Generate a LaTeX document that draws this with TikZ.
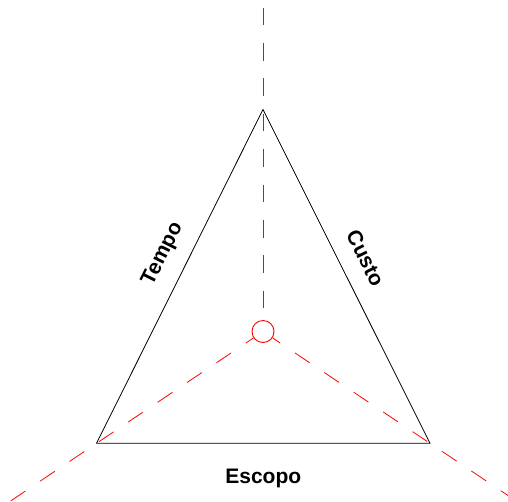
\documentclass[tikz,border=0pt]{standalone}
\usepackage{fontspec}
\setmainfont{Liberation Sans}
\begin{document}
\begin{tikzpicture}[x=1pt,y=-1pt,
  lbl/.style={font=\fontsize{21}{25}\selectfont\bfseries, inner sep=0pt},
  edge/.style={black, line width=0.8pt, line join=miter},
  axis/.style={red, line width=0.8pt, dash pattern=on 17.7pt off 17.7pt},
  hub/.style={circle, draw=red, line width=0.9pt, minimum size=22pt, inner sep=0pt}]
\useasboundingbox (0,0) rectangle (508,501);
\clip (0,0) rectangle (508,501);
\coordinate (A) at (263,109.5);
\coordinate (B) at (96.5,443.3);
\coordinate (C) at (430,443.3);
\coordinate (top) at (263,0);
\coordinate (ll) at (-17.7,520);
\coordinate (lr) at (544.6,520);
\node[hub] (o) at (263,331.5) {};
\draw[axis, dash phase=27.9pt] (top) -- (o);
\draw[axis, dash phase=8.5pt] (o) -- (ll);
\draw[axis, dash phase=8.5pt] (o) -- (lr);
\draw[edge] (A) -- (B) -- (C) -- cycle;
\node[lbl, rotate=63.4] (t) at (163,254) {Tempo};
\node[lbl, rotate=-63.4] (c) at (365.5,258) {Custo};
\node[lbl, anchor=base] (e) at (263.3,483.3) {Escopo};
\end{tikzpicture}
\end{document}
